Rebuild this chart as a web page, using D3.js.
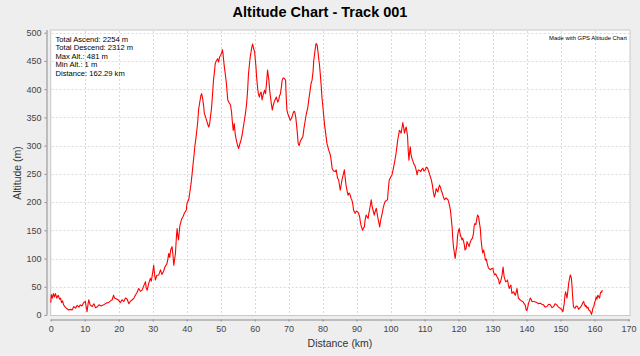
<!DOCTYPE html>
<html><head><meta charset="utf-8">
<script src="https://cdn.jsdelivr.net/npm/d3@7/dist/d3.min.js"></script>
<style>html,body{margin:0;padding:0;background:#eeeeee;}svg{display:block;}</style>
</head><body>
<svg id="chart" width="640" height="356"></svg>
<script>
const titleText = "Altitude Chart - Track 001";
const xLabel = "Distance (km)";
const yLabel = "Altitude (m)";
const statsLines = ["Total Ascend: 2254 m","Total Descend: 2312 m","Max Alt.: 481 m","Min Alt.: 1 m","Distance: 162.29 km"];
const creditText = "Made with GPS Altitude Chart";
const xTicks = [0,10,20,30,40,50,60,70,80,90,100,110,120,130,140,150,160,170];
const yTicks = [0,50,100,150,200,250,300,350,400,450,500];

const distKm = [0.0,0.2,0.5,0.8,1.1,1.4,1.8,2.2,2.6,2.9,3.2,3.5,3.8,4.3,4.8,5.3,5.8,6.3,6.8,7.3,7.8,8.3,8.7,9.2,9.7,10.2,10.5,10.7,11.0,11.2,11.6,12.2,12.7,13.2,13.6,14.2,14.8,15.6,16.3,17.0,17.6,18.1,18.5,18.8,19.5,20.0,20.5,21.0,21.5,22.0,22.5,23.0,23.4,24.0,24.5,24.9,25.4,25.9,26.4,26.9,27.4,27.9,28.1,28.4,28.8,29.3,29.6,30.0,30.3,30.6,30.8,31.2,31.8,32.3,32.7,33.2,33.6,34.2,34.5,34.7,35.0,35.3,35.7,36.0,36.2,36.5,36.7,37.0,37.2,37.4,37.6,38.0,38.3,38.6,39.0,39.3,39.6,39.9,40.1,40.6,41.0,41.3,41.6,41.9,42.2,42.4,42.7,43.1,43.3,43.5,43.8,44.2,44.4,44.7,45.0,45.2,45.6,46.0,46.3,46.5,46.8,47.0,47.3,47.5,47.7,47.9,48.2,48.4,48.7,49.1,49.4,49.7,50.0,50.4,50.5,50.7,50.9,51.1,51.4,51.7,51.9,52.1,52.5,52.9,53.2,53.4,53.7,53.9,54.0,54.3,54.6,55.0,55.3,55.6,56.0,56.3,56.6,57.0,57.3,57.6,57.8,58.0,58.2,58.5,58.7,59.0,59.2,59.4,59.7,60.0,60.2,60.4,60.6,60.9,61.1,61.4,61.6,61.9,62.2,62.5,62.9,63.2,63.5,63.8,64.0,64.2,64.4,64.6,64.9,65.2,65.5,65.8,66.1,66.4,66.8,67.1,67.3,67.6,67.9,68.1,68.4,68.7,69.1,69.3,69.5,69.8,70.1,70.5,70.8,71.1,71.3,71.6,71.8,72.1,72.3,72.6,72.8,73.1,73.4,73.8,74.2,74.5,74.9,75.2,75.6,76.0,76.4,76.6,76.9,77.2,77.4,77.7,77.9,78.1,78.4,78.6,78.8,79.1,79.3,79.6,79.8,80.1,80.3,80.6,80.8,81.1,81.3,81.8,82.3,82.6,82.8,83.2,83.7,84.0,84.4,84.7,85.0,85.2,85.5,85.7,86.0,86.2,86.4,86.7,86.9,87.2,87.5,87.8,88.1,88.4,88.6,88.9,89.1,89.4,89.6,89.9,90.3,90.6,90.9,91.1,91.3,91.6,91.8,92.0,92.3,92.5,92.8,93.1,93.4,93.6,93.8,94.1,94.3,94.5,94.7,95.0,95.2,95.5,95.8,96.0,96.2,96.5,96.8,97.0,97.3,97.6,97.8,98.1,98.4,98.8,99.1,99.3,99.6,100.0,100.4,100.7,100.9,101.3,101.6,101.9,102.1,102.4,102.6,102.9,103.1,103.4,103.6,103.9,104.1,104.4,104.6,104.8,105.0,105.2,105.4,105.6,105.8,106.0,106.3,106.6,106.8,107.1,107.3,107.6,107.8,108.0,108.2,108.6,108.9,109.2,109.5,109.8,110.2,110.5,110.9,111.1,111.4,111.7,112.0,112.3,112.5,112.7,112.9,113.2,113.4,113.7,113.9,114.2,114.4,114.7,114.9,115.2,115.4,115.7,115.9,116.2,116.4,116.7,116.9,117.1,117.4,117.6,117.8,118.1,118.3,118.5,118.8,119.0,119.3,119.5,119.7,120.0,120.2,120.5,120.7,121.0,121.2,121.5,121.7,121.9,122.2,122.5,122.8,123.1,123.4,123.7,124.1,124.4,124.6,124.8,125.1,125.4,125.6,125.9,126.1,126.4,126.6,126.9,127.1,127.4,127.7,127.9,128.2,128.4,128.8,129.1,129.3,129.7,130.1,130.3,130.6,130.9,131.3,131.5,131.8,132.0,132.3,132.6,132.8,133.1,133.4,133.7,133.9,134.2,134.4,134.7,134.9,135.1,135.4,135.7,135.9,136.2,136.5,136.7,137.0,137.2,137.4,137.6,138.1,138.5,138.9,139.3,139.6,139.9,140.1,140.3,140.6,140.9,141.1,141.4,141.6,142.1,142.6,143.1,143.5,144.0,144.5,145.0,145.5,146.0,146.5,147.0,147.5,148.0,148.4,148.9,149.4,149.9,150.3,150.7,151.1,151.3,151.5,151.7,151.9,152.2,152.4,152.7,152.9,153.2,153.4,153.5,153.8,154.0,154.3,154.6,155.0,155.3,155.6,155.9,156.3,156.6,156.8,157.0,157.3,157.5,157.8,158.1,158.3,158.6,158.8,159.0,159.1,159.3,159.5,159.8,160.0,160.2,160.5,160.7,161.0,161.2,161.5,161.7,161.9,162.1,162.29];
const altM = [22,36,30,38,32,38,30,35,28,30,22,25,18,14,11,9,10,9,15,12,17,14,18,16,22,24,12,6,20,27,18,15,20,13,14,18,16,18,21,22,25,27,35,30,28,26,22,27,24,30,28,20,24,27,30,35,40,47,42,44,52,59,48,44,55,65,60,75,88,70,62,70,71,80,72,77,85,91,100,109,102,115,121,105,88,100,109,140,153,140,133,158,165,171,175,180,183,186,198,204,220,233,250,268,285,298,312,333,345,363,375,389,392,384,370,357,350,342,336,333,340,351,365,381,398,416,432,445,450,454,448,457,460,466,470,463,450,439,425,410,395,381,376,372,360,345,327,335,339,320,310,300,295,302,310,318,330,345,357,372,386,405,428,445,457,468,475,480,472,466,452,439,420,401,392,386,392,395,381,390,398,392,410,434,425,416,400,389,375,363,372,378,382,386,377,381,388,392,405,416,420,419,416,385,363,356,351,345,348,353,357,361,360,350,339,320,304,300,307,312,316,330,345,356,366,384,401,410,416,432,451,465,475,481,478,468,457,442,428,405,386,368,354,335,327,312,303,292,283,270,260,255,254,257,242,240,228,221,232,239,247,252,257,240,230,220,212,216,213,206,204,196,186,182,180,184,183,180,174,165,159,153,150,154,156,168,177,174,171,180,186,196,204,195,189,182,177,184,189,182,174,165,156,165,174,182,189,196,201,203,204,220,239,244,248,256,262,275,286,300,310,320,327,325,322,333,341,330,322,330,333,325,316,290,274,288,298,285,277,272,268,265,262,255,248,254,257,256,254,258,260,255,257,262,260,256,251,245,239,230,221,214,209,216,224,220,218,226,230,226,221,216,212,206,204,207,207,205,204,200,192,186,174,156,135,121,108,100,115,121,140,150,153,142,139,133,136,130,124,115,118,130,126,121,128,133,136,145,158,162,160,171,177,174,165,153,135,118,110,115,105,97,99,92,83,82,80,82,83,76,71,73,68,66,62,55,58,65,71,85,68,62,59,60,62,52,47,50,53,38,40,41,37,35,42,47,38,30,27,25,24,20,18,9,8,12,21,26,30,27,24,24,23,22,20,21,19,18,14,15,19,18,13,15,20,18,14,12,10,6,21,35,41,35,30,45,56,66,71,65,50,38,15,13,12,16,15,10,12,14,18,22,24,20,15,17,12,14,9,8,6,3,1,5,12,15,21,25,32,28,35,33,30,38,41,40,44];

const svg = d3.select("#chart");
const W = 640, H = 356;
const plot = {left: 50.7, right: 630, top: 30, bottom: 315.5};
const x = d3.scaleLinear().domain([0,170]).range([plot.left, 628.5]);
const y = d3.scaleLinear().domain([0,500]).range([315, 32.7]);
const font = "'Liberation Sans', Arial, sans-serif";

svg.append("rect").attr("width",W).attr("height",H).attr("fill","#eeeeee");

svg.append("text").attr("x",320).attr("y",17).attr("text-anchor","middle")
  .attr("font-family",font).attr("font-weight","bold").attr("font-size","14.5px").attr("fill","#000").text(titleText);

svg.append("rect").attr("x",plot.left).attr("y",plot.top).attr("width",plot.right-plot.left).attr("height",plot.bottom-plot.top)
  .attr("fill","#ffffff").attr("stroke","#c8c8c8").attr("stroke-width",1);

// gridlines
const g = svg.append("g");
g.selectAll("line.vg").data(xTicks.filter(d=>d>0 && d<170)).enter().append("line")
  .attr("x1",d=>Math.round(x(d))+0.5).attr("x2",d=>Math.round(x(d))+0.5).attr("y1",plot.top+1).attr("y2",plot.bottom-1)
  .attr("stroke","#d9d9d9").attr("stroke-dasharray","2,2").attr("stroke-width",1);
g.selectAll("line.hg").data(yTicks.filter(d=>d>0)).enter().append("line")
  .attr("y1",d=>Math.round(y(d))+0.5).attr("y2",d=>Math.round(y(d))+0.5).attr("x1",plot.left+1).attr("x2",plot.right-1)
  .attr("stroke","#d9d9d9").attr("stroke-dasharray","2,2").attr("stroke-width",1);

// line
const data = distKm.map((d,i)=>[d, altM[i]]);
svg.append("path").datum(data)
  .attr("d", d3.line().x(d=>x(d[0])).y(d=>y(d[1])))
  .attr("fill","none").attr("stroke","#ff0000").attr("stroke-width",1.1).attr("stroke-linejoin","round");

// axes
const xAxis = d3.axisBottom(x).tickValues(xTicks).tickSize(2).tickPadding(4).tickFormat(d3.format("d"));
const gx = svg.append("g").attr("transform","translate(0,319.5)").call(xAxis);
gx.select(".domain").attr("stroke","#8c8c8c").attr("d",`M${plot.left},0.5H${plot.right}`);
gx.selectAll(".tick line").attr("stroke","#8c8c8c");
gx.selectAll("text").attr("font-family",font).attr("font-size","9px").attr("fill","#444");

const yAxis = d3.axisLeft(y).tickValues(yTicks).tickSize(2).tickPadding(3).tickFormat(d3.format("d"));
const gy = svg.append("g").attr("transform","translate(46.5,0)").call(yAxis);
gy.select(".domain").attr("stroke","#8c8c8c").attr("d",`M0.5,${plot.top}V${plot.bottom}`);
gy.selectAll(".tick line").attr("stroke","#8c8c8c");
gy.selectAll("text").attr("font-family",font).attr("font-size","9px").attr("fill","#444");

svg.append("text").attr("x",340).attr("y",347).attr("text-anchor","middle")
  .attr("font-family",font).attr("font-size","10.5px").attr("fill","#333").text(xLabel);
svg.append("text").attr("transform","translate(21,173) rotate(-90)").attr("text-anchor","middle")
  .attr("font-family",font).attr("font-size","10.5px").attr("fill","#333").text(yLabel);

// stats
svg.append("g").selectAll("text").data(statsLines).enter().append("text")
  .attr("x",55.5).attr("y",(d,i)=>41.8+i*8.5)
  .attr("font-family",font).attr("font-size","7.6px").attr("fill","#000").text(d=>d);

svg.append("text").attr("x",627).attr("y",39.5).attr("text-anchor","end")
  .attr("font-family",font).attr("font-size","5.9px").attr("fill","#000").text(creditText);
</script>
</body></html>
